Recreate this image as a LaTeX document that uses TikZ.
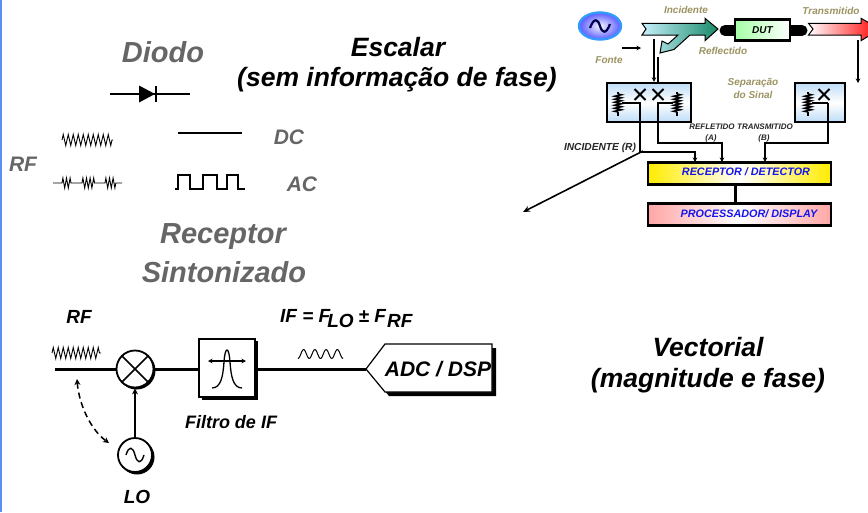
\documentclass[tikz,border=0pt]{standalone}
\usepackage{fontspec}
\setmainfont{Liberation Sans}
\usetikzlibrary{arrows.meta,decorations.pathmorphing,calc,shapes.geometric}
\definecolor{olivetxt}{HTML}{9C9362}
\definecolor{greytxt}{HTML}{666666}
\definecolor{edgeblue}{HTML}{5B8DF5}
\definecolor{labelblue}{HTML}{1414F0}
\definecolor{boxblue}{HTML}{BFDDF8}
\definecolor{arrowteal}{HTML}{178A68}
\definecolor{arrowlight}{HTML}{C8F0FC}
\newcommand{\fsz}[1]{\fontsize{#1}{#1}\selectfont\bfseries\itshape}
\tikzset{
  lbl/.style={inner sep=0pt,align=center,font=\fsz{#1}},
  biglbl/.style={lbl=26.5,text=black},
  greylbl/.style={lbl=#1,text=greytxt},
  smalllbl/.style={lbl=10,text=olivetxt},
  tinylbl/.style={lbl=8,text=black!85},
  wire/.style={line width=1.6pt},
  mainwire/.style={line width=3pt},
  tip/.style={-{Stealth[length=4.5pt,width=4.5pt]}},
  zz/.style={decorate,decoration={zigzag,segment length=#1,amplitude=5.5pt}},
  splitbox/.style={draw=black,line width=2.4pt,inner sep=0pt,top color=boxblue,bottom color=boxblue,middle color=white},
  barbox/.style={draw=black,line width=2.8pt,inner sep=0pt,minimum height=22pt,minimum width=183pt},
  res/.style={decorate,decoration={zigzag,segment length=3pt,amplitude=3.2pt},line width=1.6pt},
  ringnode/.style={draw=black,line width=1.8pt,fill=white,circle,inner sep=0pt},
}
\begin{document}
\begin{tikzpicture}[x=1pt,y=-1pt]
\useasboundingbox (0,0) rectangle (868,512);
\fill[white] (0,0) rectangle (868,512);
\fill[edgeblue] (0,0) rectangle (1.5,512);

% Titles
\node[greylbl=29] (diodo) at (163,52) {Diodo};
\node[biglbl] (escalar) at (398,47) {Escalar};
\node[biglbl] (sem) at (397,80) {(sem informação de fase)};
\node[greylbl=29] (rec1) at (223,237) {Receptor};
\node[greylbl=29] (rec2) at (224,272) {Sintonizado};
\node[biglbl] (vec1) at (708,347) {Vectorial};
\node[biglbl] (vec2) at (708,381) {(magnitude e fase)};

% Diode
\coordinate (dl) at (110,94);
\coordinate (dr) at (190,94);
\draw[line width=1.5pt] (dl) -- (dr);
\fill (139,85.5) -- (155,94) -- (139,102.5) -- cycle;
\draw[line width=2.2pt] (156,86) -- (156,102);

% RF/DC/AC signals
\draw[line width=.9pt,zz=5pt] (62,140) -- (113,140);
\draw[line width=.9pt,decoration={zigzag,segment length=3.6pt,amplitude=5pt}]
  (53,183) -- (62,183) decorate {-- (72,183)} -- (82,183) decorate {-- (95,183)} -- (105,183) decorate {-- (117,183)} -- (122,183);
\draw[line width=1.6pt] (178,133) -- (242,133);
\draw[line width=1.4pt] (175,189) -- (178,189) -- (178,175) -- (190,175) -- (190,189) -- (203,189) -- (203,175) -- (217,175) -- (217,189) -- (227,189) -- (227,175) -- (238,175) -- (238,189) -- (245,189);
\node[greylbl=21] (dc) at (289,137) {DC};
\node[greylbl=21] (ac) at (302,184) {AC};
\node[greylbl=21] (rflbl) at (23,164) {RF};

% Tuned receiver
\node[lbl=19] (rf2) at (79,317) {RF};
\draw[line width=.9pt,zz=5pt] (52,353) -- (101,353);
\coordinate (in) at (55,369);
\fill (136.5,370.5) circle (19);
\node[ringnode,minimum size=37pt] (mix) at (135,369) {};
\draw[line width=1.5pt] (mix.north east) -- (mix.south west) (mix.north west) -- (mix.south east);
\fill (137,457) circle (17.5);
\node[ringnode,minimum size=34pt] (lo) at (135,455) {};
\draw[line width=1.4pt] ($(lo)+(-9,0)$) .. controls ($(lo)+(-6,-10)$) and ($(lo)+(-2,-8)$) .. (lo.center) .. controls ($(lo)+(2,8)$) and ($(lo)+(6,10)$) .. ($(lo)+(9,0)$);
\fill (202,341) rectangle (258,400);
\node[draw=black,line width=1.6pt,fill=white,minimum width=56pt,minimum height=58pt,inner sep=0pt] (filt) at (227,368) {};
\draw[line width=1.3pt] ($(filt)+(-15,20)$) .. controls ($(filt)+(-6,20)$) and ($(filt)+(-4,8)$) .. ($(filt)+(-3,-6)$) .. controls ($(filt)+(-2,-22)$) and ($(filt)+(2,-22)$) .. ($(filt)+(3,-6)$) .. controls ($(filt)+(4,8)$) and ($(filt)+(6,20)$) .. ($(filt)+(15,20)$);
\draw[line width=1.2pt,{Stealth[length=4.5pt,width=4.5pt]}-{Stealth[length=4.5pt,width=4.5pt]}] ($(filt)+(-19,-7)$) -- ($(filt)+(19,-7)$);
\draw[line width=1pt] plot[smooth,domain=0:45,samples=46] ({298+\x},{354+4.5*cos(\x*32)});
\fill[black] (370,373) -- (389,348) -- (496,348) -- (496,396) -- (389,396) -- cycle;
\coordinate (adctip) at (366,369);
\draw[line width=1.2pt,fill=white] (adctip) -- (385,344) -- (492,344) -- (492,392) -- (385,392) -- cycle;
\node[lbl=21] (adc) at (438,369) {ADC / DSP};
\draw[mainwire] (in) -- (mix);
\draw[mainwire] (mix) -- (mix -| filt.west);
\draw[mainwire] (adctip -| filt.east) -- (adctip);
\draw[line width=1.8pt,-{Stealth[length=6pt,width=6pt]}] (lo) -- (mix);
\coordinate (d1) at (77,379);
\coordinate (d2) at (109,443);
\draw[line width=1.5pt,dash pattern=on 6pt off 4pt,{Stealth[length=6pt,width=6pt]}-{Stealth[length=6pt,width=6pt]}] (d1) .. controls (79,405) and (91,430) .. (d2);
\node[lbl=18] (filtro) at (231,422) {Filtro de IF};
\node[lbl=19] (lol) at (137,497) {LO};
\node[lbl=19,anchor=west] (iflbl) at (280,319) {IF = F\kern-3pt\raisebox{-5pt}{LO}\kern5pt± F\kern1pt\raisebox{-5pt}{RF}};

% Vector analyser: source
\node[ellipse,draw=blue!50!cyan!80,line width=2.4pt,minimum width=42pt,minimum height=27pt,inner sep=0pt,
  inner color=blue!4,outer color=blue!65] (src) at (600,26) {};
\draw[line width=2.2pt,draw=blue!30!black] ($(src)+(-10,2)$) .. controls ($(src)+(-6,-9)$) and ($(src)+(-2,-7)$) .. (src.center) .. controls ($(src)+(2,7)$) and ($(src)+(6,9)$) .. ($(src)+(10,-2)$);
\node[smalllbl] (fonte) at (609,60) {Fonte};
\coordinate (fa) at (622,48);
\coordinate (fb) at (641,48);
\draw[wire,tip] (fa) -- (fb);

% Incident / reflected arrow
\shade[left color=arrowlight,right color=arrowteal,draw=black,line width=1pt]
 (642,23.3) -- (705,23.3) -- (705,18.3) -- (718,29) -- (705,40.7) -- (705,35) -- (690,35) -- (674,49.5) -- (660,53) -- (662,41) -- (668,44) -- (678,35) -- (642,35) -- (646,29) -- cycle;
\node[smalllbl] (inc) at (686,10) {Incidente};
\node[smalllbl] (refl) at (723,51) {Reflectido};

% DUT
\draw[line width=11pt,line cap=round] (725,30.5) -- (802,30.5);
\node[draw=black,line width=2.2pt,left color=green!35,right color=white,minimum width=55pt,minimum height=21pt,inner sep=0pt,font=\fsz{10}] (dut) at (762.5,30) {DUT};

% Transmitted arrow
\shade[left color=white,right color=red,draw=black,line width=1pt]
 (808.5,23.3) -- (861,23.3) -- (861,18.3) -- (880,29) -- (861,40.7) -- (861,35) -- (808.5,35) -- (813,29) -- cycle;
\node[smalllbl] (trans) at (831,11) {Transmitido};
\coordinate (ta) at (858,40);
\coordinate (tb) at (858,83);
\draw[wire,tip] (ta) -- (tb);
\node[smalllbl] (sep1) at (753,83) {Separação};
\node[smalllbl] (sep2) at (753,95) {do Sinal};

% Splitter boxes
\node[splitbox,minimum width=84pt,minimum height=39pt] (b1) at (649,102.5) {};
\node[splitbox,minimum width=50pt,minimum height=39pt] (b2) at (820,102.5) {};
\coordinate (ia) at (654,39);
\coordinate (ra) at (658,57);
\draw[wire,tip] (ia) -- (ia |- b1.north);
\draw[wire] (ra) -- (ra |- b1.north);
\foreach \cx in {640,658,824}{
  \draw[line width=2pt] (\cx-5.5,89) -- (\cx+5.5,100) (\cx+5.5,89) -- (\cx-5.5,100);
}
\foreach \rx in {618,677,808}{
  \draw[res] (\rx,94) -- (\rx,112);
  \draw[line width=1.6pt] (\rx,92) -- (\rx,94) (\rx,112) -- (\rx,116);
}

% Receiver / processor
\node[barbox,left color=yellow!85!orange,right color=yellow!85!orange,middle color=white,shading angle=90] (recv) at (739.5,173.5) {};
\node[font=\fsz{10.8},text=labelblue,inner sep=0pt] (recvt) at (746,172) {RECEPTOR / DETECTOR};
\node[barbox,left color=red!35,right color=red!35,middle color=white,shading angle=90] (proc) at (739.5,214.5) {};
\node[font=\fsz{10.8},text=labelblue,inner sep=0pt] (proct) at (749,214) {PROCESSADOR/ DISPLAY};
\draw[line width=3pt] (735,185) -- (735,203);

% Signal routes
\coordinate (j) at (640,152);
\coordinate (far) at (523,212);
\draw[wire] (622,103) -- (640,103) -- (j);
\draw[wire,tip] (j) -- (695,152) -- (695,162);
\draw[wire,-{Stealth[length=7pt,width=6pt]}] (643,151) -- (far);
\draw[wire,tip] (658,122) -- (658,143) -- (722,143) -- (722,162);
\draw[wire] (673,103) -- (658,103) -- (658,122);
\draw[wire,tip] (828,103) -- (828,143) -- (765,143) -- (765,162);
\draw[wire] (812,103) -- (828,103);
\node[tinylbl] (ra1) at (712,127) {REFLETIDO};
\node[tinylbl] (ra2) at (711,138) {(A)};
\node[tinylbl] (tb1) at (765,127) {TRANSMITIDO};
\node[tinylbl] (tb2) at (764,138) {(B)};
\node[lbl=10.2,text=black!85] (incr) at (600,148) {INCIDENTE (R)};
\end{tikzpicture}
\end{document}
